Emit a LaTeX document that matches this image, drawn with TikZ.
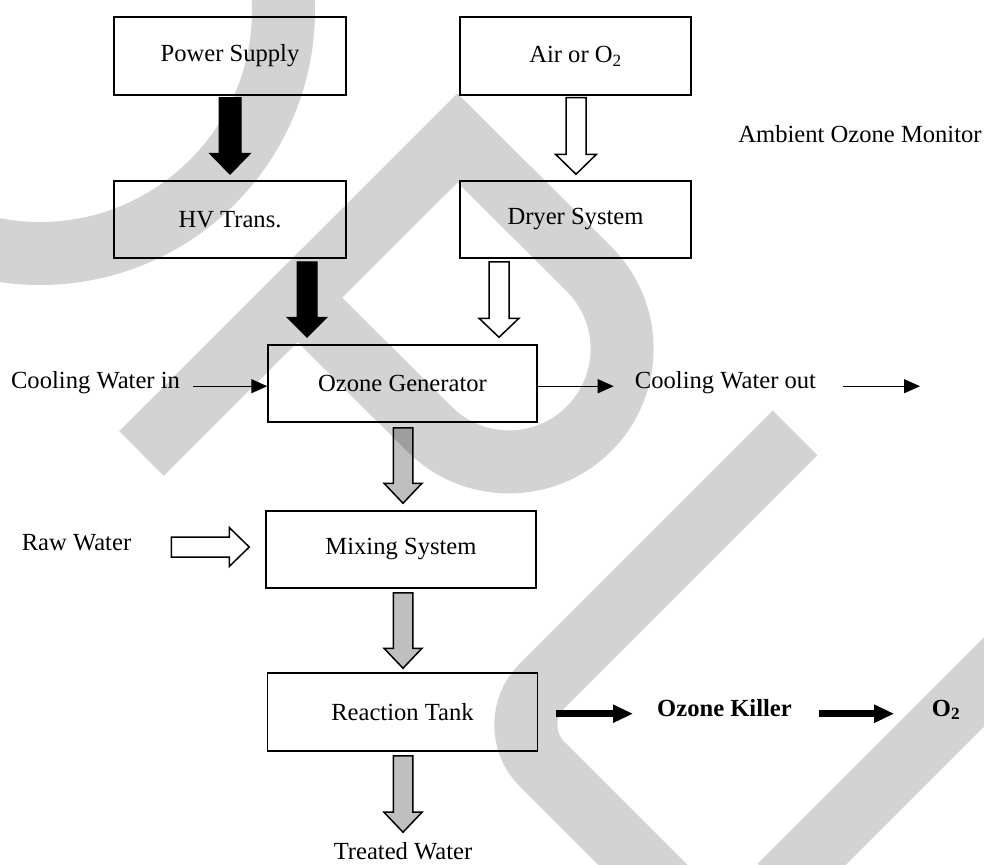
\documentclass[tikz,border=0pt]{standalone}
\usepackage{fontspec}
\setmainfont{Liberation Serif}
\usetikzlibrary{calc,arrows.meta}

\definecolor{wmgray}{RGB}{211,211,211}

% vertical block arrow: style, start point, tip point, half shaft, half head, head length
\newcommand\downblock[6]{%
  \path[#1] let \p1=(#2), \p2=(#3) in
    (\x1-#4,\y1) -- (\x1+#4,\y1) -- (\x1+#4,\y2+#6) -- (\x1+#5,\y2+#6)
    -- (\x1,\y2) -- (\x1-#5,\y2+#6) -- (\x1-#4,\y2+#6) -- cycle;}
% horizontal block arrow: style, start point, tip point, half shaft, half head, head length
\newcommand\rightblock[6]{%
  \path[#1] let \p1=(#2), \p2=(#3) in
    (\x1,\y1+#4) -- (\x2-#6,\y1+#4) -- (\x2-#6,\y1+#5) -- (\x2,\y1)
    -- (\x2-#6,\y1-#5) -- (\x2-#6,\y1-#4) -- (\x1,\y1-#4) -- cycle;}

\tikzset{
  box/.style={draw, line width=1.5pt, minimum width=232pt, minimum height=78pt, inner sep=0pt},
  lbl/.style={inner sep=0pt, anchor=base},
  wmband/.style={draw=wmgray, line width=63pt},
  thinarrow/.style={line width=1.3pt, -{Triangle[length=16pt,width=14pt]}},
  boldarrow/.style={line width=7pt, -{Triangle[length=20pt,width=17pt]}},
  blackblock/.style={fill=black, draw=black, line width=1pt},
  whiteblock/.style={fill=white, draw=black, line width=1.5pt},
  grayblock/.style={fill=black, fill opacity=0.25, draw=black, draw opacity=1, line width=1.5pt},
}

\begin{document}
\begin{tikzpicture}[x=1pt, y=-1pt,
  every node/.append style={font=\fontsize{24.6pt}{29pt}\selectfont}]
\useasboundingbox (0,0) rectangle (984,864);
\fill[white] (0,0) rectangle (984,864);

% background watermark bands
\begin{scope}
  \clip (0,0) rectangle (984,864);
  \draw[wmband] (40,10) circle[radius=243.5pt];
  \draw[wmband, line join=miter] (141.5,453.5) -- (457.5,138) -- (589,269)
    arc[start angle=45, end angle=-135, radius=113pt] -- (295,295);
  \draw[wmband, rounded corners=55pt] (795,433) -- (503,725) -- (693,915);
  \draw[wmband] (1050,616) -- (780,886);
\end{scope}

% process boxes
\node[box] (ps) at (230,56) {Power Supply};
\node[box, minimum width=231pt] (air) at (575.5,56) {Air or O\textsubscript{2}};
\node[box, minimum height=77pt] (hv) at (230,219.5) {HV Trans.};
\node[box, minimum width=231pt, minimum height=77pt] (dr) at (575.5,219.5) {Dryer System};
\node[box, minimum width=269pt, minimum height=77pt] (og) at (402.5,383.5) {Ozone Generator};
\node[box, minimum width=270pt, minimum height=77pt] (mix) at (401,549.5) {Mixing System};
\node[box, minimum width=270pt, minimum height=78pt] (rt) at (402.5,712) {Reaction Tank};

% free labels
\node[lbl] (amb) at (860,142) {Ambient Ozone Monitor};
\node[lbl] (cwi) at (95.5,388.5) {Cooling Water in};
\node[lbl] (cwo) at (725.5,388.5) {Cooling Water out};
\node[lbl] (rw) at (76.5,550) {Raw Water};
\node[lbl] (ok) at (724.5,716) {\textbf{Ozone Killer}};
\node[lbl] (o2) at (946,716) {\textbf{O\textsubscript{2}}};
\node[lbl] (tw) at (403,859.5) {Treated Water};
\coordinate (cwoend) at (920,383);

% power path
\downblock{blackblock}{$(ps.south)+(0,2)$}{$(hv.north)+(0,-6)$}{11pt}{20.5pt}{21pt}
\downblock{blackblock}{$(hv.south)+(77,3)$}{$(og.north)+(0,-7)$}{10pt}{20pt}{20pt}

% gas path
\downblock{whiteblock}{$(air.south)+(0.5,2)$}{$(dr.north)+(0,-6)$}{10pt}{20.5pt}{20pt}
\downblock{whiteblock}{$(dr.south)+(-76.5,3)$}{$(og.north)+(0,-7)$}{10pt}{20pt}{19pt}

% water path
\downblock{grayblock}{$(og.south)+(0.5,5)$}{$(mix.north)+(0,-7)$}{9.75pt}{19pt}{20pt}
\downblock{grayblock}{$(mix.south)+(2,4)$}{$(rt.north)+(0,-4)$}{9.75pt}{19pt}{20pt}
\downblock{grayblock}{$(rt.south)+(0.5,4)$}{$(tw.north)+(0,-10)$}{9.75pt}{19pt}{20pt}
\rightblock{whiteblock}{$(rw.east |- mix.west)+(40,-2.5)$}{$(mix.west)+(-16,0)$}{10pt}{19.5pt}{20pt}

% cooling water
\draw[thinarrow] ($(cwi.mid east)+(13,0)$) -- (og.west |- cwi.mid east);
\draw[thinarrow] (og.east |- cwo.mid west) -- ($(cwo.mid west)+(-21,0)$);
\draw[thinarrow] ($(cwo.mid east)+(27,0)$) -- (cwoend |- cwo.mid east);

% off-gas
\draw[boldarrow] ($(rt.east |- ok.mid west)+(18,0)$) -- ($(ok.mid west)+(-24,0)$);
\draw[boldarrow] ($(ok.mid east)+(27,0)$) -- ($(o2.mid west)+(-37.5,0)$);
\end{tikzpicture}
\end{document}
